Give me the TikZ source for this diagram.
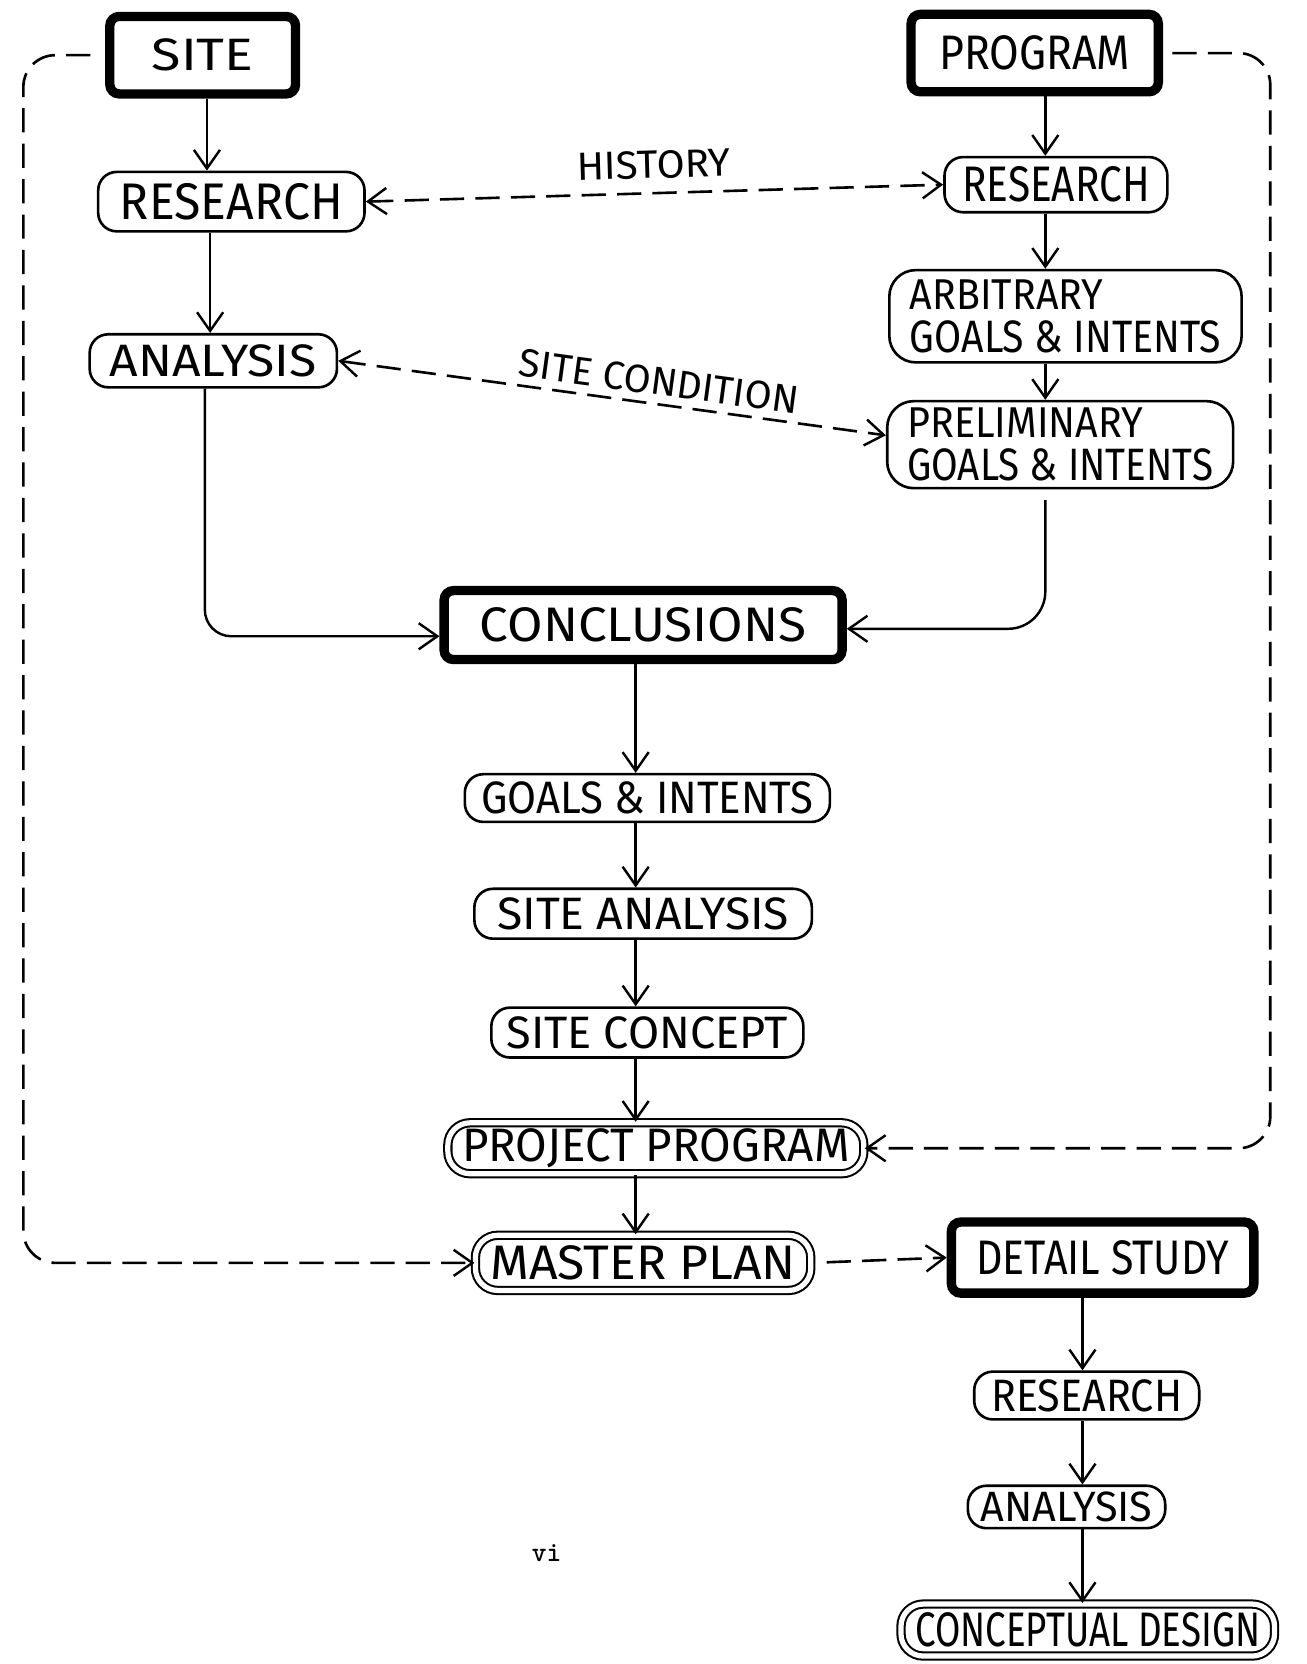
\documentclass[tikz,border=0pt]{standalone}
\usepackage{fontspec}
\setmainfont{Fira Sans}
\usepackage{graphicx}
\usetikzlibrary{arrows.meta,calc}
\newlength\pxu
\setlength\pxu{0.02cm}
\newcommand\fittext[3]{\resizebox{#1\pxu}{#2\pxu}{#3}}
\tikzset{
  sz/.style 2 args={minimum width=#1*0.02cm, minimum height=#2*0.02cm},
  thickbox/.style={draw, line width=5pt, rounded corners=5pt, inner sep=0pt, align=center},
  pill/.style={draw, line width=1.4pt, rounded corners=0.35cm, inner sep=0pt, align=center},
  pillL/.style={draw, line width=1.4pt, rounded corners=0.5cm, inner sep=0pt, align=left},
  dblpill/.style={draw, double, line width=1.1pt, double distance=2.8pt, rounded corners=0.42cm, inner sep=0pt, align=center},
  arr/.style={line width=1.3pt, -{Straight Barb[length=10pt,width=14pt,line width=1.3pt]}},
  darr/.style={line width=1.4pt, dash pattern=on 13pt off 6pt, -{Straight Barb[length=10pt,width=14pt,line width=1.3pt]}},
  darrb/.style={line width=1.4pt, dash pattern=on 13pt off 6pt, {Straight Barb[length=10pt,width=14pt,line width=1.3pt]}-{Straight Barb[length=10pt,width=14pt,line width=1.3pt]}},
  lbl/.style={inner sep=1pt}
}
\begin{document}
\begin{tikzpicture}[x=0.02cm,y=-0.02cm]
\useasboundingbox (0,0) rectangle (1231,1568);

% column guides
\coordinate (cL1) at (195,0);
\coordinate (cL2) at (198,0);
\coordinate (cA) at (193,0);
\coordinate (cR) at (985,0);
\coordinate (cC) at (599,0);
\coordinate (cD) at (1020,0);
\coordinate (lL) at (22,600);
\coordinate (lR) at (1197,600);

% nodes
\node[thickbox, sz={175}{73}] (site) at (191,52) {\fittext{96}{30}{SITE}};
\node[thickbox, sz={233}{73}] (prog) at (975,50) {\fittext{180}{32}{PROGRAM}};
\node[pill, sz={251}{56}] (resL) at (218,190) {\fittext{210}{34}{RESEARCH}};
\node[pill, sz={210}{52}] (resR) at (995,174) {\fittext{177}{33}{RESEARCH}};
\node[pillL, sz={332}{87}] (arb) at (1004,298) {\fittext{182}{28}{ARBITRARY}\\[5pt]\fittext{293}{30}{GOALS \& INTENTS}};
\node[pill, sz={233}{50}] (anaL) at (201,340) {\fittext{195}{30}{ANALYSIS}};
\node[pillL, sz={326}{82}] (prel) at (999,419) {\fittext{222}{28}{PRELIMINARY}\\[5pt]\fittext{288}{30}{GOALS \& INTENTS}};
\node[thickbox, sz={375}{65}] (concl) at (606,589) {\fittext{308}{32}{CONCLUSIONS}};
\node[pill, sz={344}{45}] (goals) at (610,752) {\fittext{313}{30}{GOALS \& INTENTS}};
\node[pill, sz={318}{47}] (sitean) at (606,861) {\fittext{275}{30}{SITE ANALYSIS}};
\node[pill, sz={294}{47}] (sitecon) at (610,973) {\fittext{265}{30}{SITE CONCEPT}};
\node[dblpill, sz={392}{48}] (proj) at (618,1082) {\fittext{365}{31}{PROJECT PROGRAM}};
\node[dblpill, sz={316}{52}] (master) at (606,1190) {\fittext{288}{32}{MASTER PLAN}};
\node[thickbox, sz={285}{67}] (detail) at (1039,1185) {\fittext{238}{32}{DETAIL STUDY}};
\node[pill, sz={212}{45}] (resB) at (1024,1315) {\fittext{180}{30}{RESEARCH}};
\node[pill, sz={186}{40}] (anaB) at (1005,1420) {\fittext{162}{28}{ANALYSIS}};
\node[dblpill, sz={352}{49}] (concept) at (1025,1536) {\fittext{325}{32}{CONCEPTUAL DESIGN}};
\node[font=\fontsize{15}{17}\selectfont\ttfamily\bfseries] (pg) at (515,1463) {vi};

% left column
\draw[arr] (site.south -| cL1) -- (resL.north -| cL1);
\draw[arr] (resL.south -| cL2) -- (anaL.north -| cL2);
% right column
\draw[arr] (prog.south -| cR) -- (resR.north -| cR);
\draw[arr] (resR.south -| cR) -- (arb.north -| cR);
\draw[arr] (arb.south -| cR) -- (prel.north -| cR);
% cross links
\draw[darrb] (resL.east) -- node[lbl, midway, above=6pt, sloped] (hist) {\fittext{145}{26}{HISTORY}} (resR.west);
\draw[darrb] (anaL.east) -- node[lbl, pos=0.58, above=3pt, sloped] (scond) {\fittext{265}{26}{SITE CONDITION}} ([yshift=5pt]prel.west);
% into conclusions
\draw[arr, rounded corners=0.5cm] (anaL.south -| cA) |- ([yshift=-6pt]concl.west);
\draw[arr, rounded corners=0.7cm] ($(prel.south -| cR)+(0,10)$) |- ([yshift=-2pt]concl.east);
% centre column
\draw[arr] (concl.south -| cC) -- (goals.north -| cC);
\draw[arr] (goals.south -| cC) -- (sitean.north -| cC);
\draw[arr] (sitean.south -| cC) -- (sitecon.north -| cC);
\draw[arr] (sitecon.south -| cC) -- (proj.north -| cC);
\draw[arr] (proj.south -| cC) -- (master.north -| cC);
% loops
\draw[darr, rounded corners=0.6cm, shorten <=8pt] (site.west) -| (lL) |- (master.west);
\draw[darr, rounded corners=0.6cm, shorten <=5pt] (prog.east) -| (lR) |- (proj.east);
\draw[darr, shorten <=8pt] (master.east) -- (detail.west);
% detail column
\draw[arr] (detail.south -| cD) -- (resB.north -| cD);
\draw[arr] (resB.south -| cD) -- (anaB.north -| cD);
\draw[arr] (anaB.south -| cD) -- (concept.north -| cD);
\end{tikzpicture}
\end{document}
